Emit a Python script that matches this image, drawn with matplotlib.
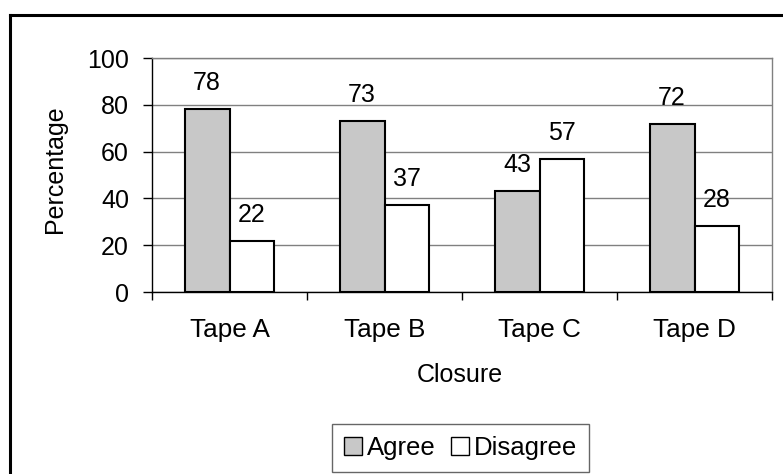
import numpy as np
import matplotlib
matplotlib.use("Agg")
import matplotlib.pyplot as plt
from matplotlib.lines import Line2D
from matplotlib.patches import Patch

categories = ["Tape A", "Tape B", "Tape C", "Tape D"]
agree = [78, 73, 43, 72]
disagree = [22, 37, 57, 28]
series_names = ["Agree", "Disagree"]
y_ticks = [0, 20, 40, 60, 80, 100]

plt.rcParams["font.family"] = ["Liberation Sans", "DejaVu Sans"]
FS = 18

W, H = 783, 474
fig = plt.figure(figsize=(W / 100, H / 100), dpi=100)
fig.patch.set_facecolor("white")

def fx(px):
    return px / W

def fy(py):
    return 1 - py / H

ax = fig.add_axes([fx(152), fy(292), fx(772) - fx(152), fy(58) - fy(292)])

x = np.arange(len(categories))
w = 0.29
ax.bar(x - w / 2, agree, w, color="#C8C8C8", edgecolor="black", linewidth=1.5, zorder=3)
ax.bar(x + w / 2, disagree, w, color="white", edgecolor="black", linewidth=1.5, zorder=3)

for xs, vals in ((x - w / 2, agree), (x + w / 2, disagree)):
    for xi, v in zip(xs, vals):
        ax.annotate(str(v), (xi, v), xytext=(0, 19), textcoords="offset pixels",
                    ha="center", va="baseline", fontsize=FS)

ax.set_xlim(-0.5, len(categories) - 0.5)
ax.set_ylim(0, 100)
ax.set_yticks(y_ticks)
ax.set_yticklabels([str(t) for t in y_ticks], fontsize=FS)
ax.yaxis.grid(True, color="#808080", linewidth=1.0, zorder=0)
ax.set_axisbelow(True)

ax.set_xticks(x)
ax.set_xticklabels(categories, fontsize=18.8)
ax.set_xticks(np.arange(len(categories) + 1) - 0.5, minor=True)
ax.tick_params(axis="x", which="major", length=0, pad=19)
ax.tick_params(axis="x", which="minor", length=6, width=1, color="black", direction="out")
ax.tick_params(axis="y", which="major", length=6.5, width=1, color="black", pad=10)

for s in ("top", "right"):
    ax.spines[s].set_color("#808080")
    ax.spines[s].set_linewidth(1.0)
for s in ("left", "bottom"):
    ax.spines[s].set_color("black")
    ax.spines[s].set_linewidth(1.0)

fig.text(fx(55), fy(169), "Percentage", rotation=90, ha="center", va="center", fontsize=FS)
fig.text(fx(460), fy(375), "Closure", ha="center", va="center", fontsize=FS)

# outer chart frame (left and top edges)
fig.add_artist(Line2D([fx(10), fx(10)], [fy(15), 0], transform=fig.transFigure,
                      color="black", linewidth=2.2))
fig.add_artist(Line2D([fx(10), 1], [fy(15), fy(15)], transform=fig.transFigure,
                      color="black", linewidth=2.2))

handles = [Patch(facecolor="#C8C8C8", edgecolor="black", linewidth=1.0),
           Patch(facecolor="white", edgecolor="black", linewidth=1.0)]
leg = fig.legend(handles, series_names, loc="center", ncol=2,
                 bbox_to_anchor=(fx((329 + 592) / 2), fy(448)),
                 fontsize=18.5, frameon=True, fancybox=False,
                 handlelength=0.7, handleheight=0.7, handletextpad=0.2,
                 columnspacing=0.6, borderpad=0.45, borderaxespad=0)
leg.get_frame().set_edgecolor("#404040")
leg.get_frame().set_linewidth(1.0)

fig.savefig("out.png", dpi=100, facecolor="white")
